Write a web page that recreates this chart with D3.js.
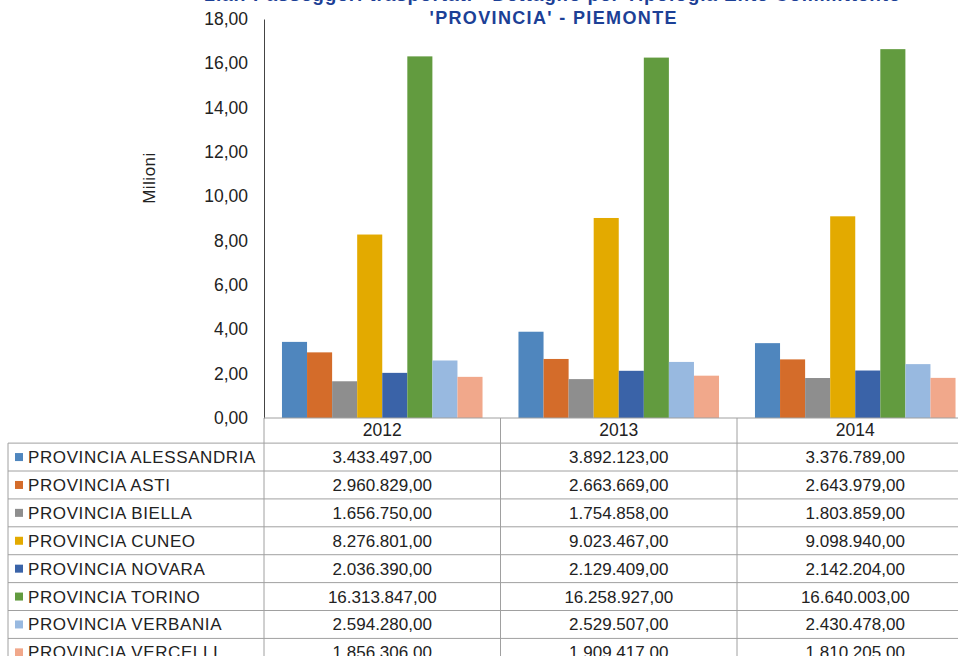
<!DOCTYPE html>
<html>
<head>
<meta charset="utf-8">
<script src="https://cdn.jsdelivr.net/npm/d3@7"></script>
<style>
   body { margin: 0; background: #fff; }
   svg { display: block; font-family: "Liberation Sans", Arial, sans-serif; }
</style>
</head>
<body>
<div id="mainChart"></div>
<script>
// Data
const years = ["2012", "2013", "2014"]
const provinces = ["PROVINCIA ALESSANDRIA", "PROVINCIA ASTI", "PROVINCIA BIELLA", "PROVINCIA CUNEO",
   "PROVINCIA NOVARA", "PROVINCIA TORINO", "PROVINCIA VERBANIA", "PROVINCIA VERCELLI"]
const alessandria = [3433497, 3892123, 3376789]
const asti = [2960829, 2663669, 2643979]
const biella = [1656750, 1754858, 1803859]
const cuneo = [8276801, 9023467, 9098940]
const novara = [2036390, 2129409, 2142204]
const torino = [16313847, 16258927, 16640003]
const verbania = [2594280, 2529507, 2430478]
const vercelli = [1856306, 1909417, 1810205]
const yTicks = [0, 2, 4, 6, 8, 10, 12, 14, 16, 18]
const colors = ["#4f86be", "#d46c2a", "#8e8e8e", "#e3aa00", "#3a63a8", "#629b3f", "#98b9e0", "#f1a88b"]

const seriesValues = [alessandria, asti, biella, cuneo, novara, torino, verbania, vercelli]
const series = provinces.map((name, i) => ({ name: name, color: colors[i], values: seriesValues[i] }))

const W = 958, H = 656
const plotLeft = 264, plotTop = 19, plotBottom = 418
const bandWidth = 236.5
const rowH = 27.9

const svg = d3.select("#mainChart").append("svg")
   .attr("width", W)
   .attr("height", H)

// Scales
let x = d3.scaleBand()
   .domain(years)
   .range([plotLeft, plotLeft + bandWidth * years.length])
   .paddingInner(0.152)
   .paddingOuter(0.076)

let x0 = d3.scaleBand()
   .domain(years)
   .range([plotLeft, plotLeft + bandWidth * years.length])

let xInner = d3.scaleBand()
   .domain(provinces)
   .range([0, x.bandwidth()])

let y = d3.scaleLinear()
   .domain([0, 18])
   .range([plotBottom, plotTop])

// Title (first line is cut off by the top edge)
svg.append("text")
   .attr("x", 552).attr("y", 1)
   .attr("text-anchor", "middle")
   .attr("textLength", 695)
   .style("font-size", "19px").style("font-weight", "bold")
   .attr("fill", "#1c4096")
   .text("2.a.: Passeggeri trasportati - Dettaglio per Tipologia Ente Committente")

svg.append("text")
   .attr("x", 553).attr("y", 23.5)
   .attr("text-anchor", "middle")
   .attr("textLength", 247)
   .style("font-size", "18px").style("font-weight", "bold")
   .attr("fill", "#1c4096")
   .text("'PROVINCIA' - PIEMONTE")

// Y axis
let yAxis = d3.axisLeft(y)
   .tickValues(yTicks)
   .tickFormat(d => d3.format(".2f")(d).replace(".", ","))
   .tickSize(0)
   .tickPadding(16)

let yAxisG = svg.append("g")
   .attr("transform", "translate(" + plotLeft + ",0)")
   .call(yAxis)

yAxisG.select(".domain").attr("stroke", "#444")
yAxisG.selectAll("text")
   .style("font-size", "17.5px")
   .style("font-family", "'Liberation Sans', Arial, sans-serif")
   .attr("fill", "#222")

svg.append("text")
   .attr("transform", "translate(155,178) rotate(-90)")
   .attr("text-anchor", "middle")
   .style("font-size", "17px")
   .style("letter-spacing", "0.5px")
   .attr("fill", "#222")
   .text("Milioni")

// Bars
series.forEach((s, k) => {
   svg.selectAll("rect.bar-" + k).data(s.values)
      .join("rect")
      .attr("class", "bar-" + k)
      .attr("x", (d, i) => x(years[i]) + xInner(s.name))
      .attr("y", d => y(d / 1e6))
      .attr("width", xInner.bandwidth())
      .attr("height", d => plotBottom - y(d / 1e6))
      .attr("fill", s.color)
})

// Data table
const tableTop = plotBottom
const tableLeft = 8
const tableRight = plotLeft + bandWidth * years.length
const gridColor = "#a0a0a0"

// horizontal lines
svg.append("line")
   .attr("x1", plotLeft).attr("x2", tableRight)
   .attr("y1", tableTop).attr("y2", tableTop)
   .attr("stroke", gridColor)

d3.range(provinces.length + 1).forEach(i => {
   let yy = tableTop + rowH * (i + 0.9)
   svg.append("line")
      .attr("x1", tableLeft).attr("x2", tableRight)
      .attr("y1", yy).attr("y2", yy)
      .attr("stroke", gridColor)
})

// vertical lines
svg.append("line")
   .attr("x1", tableLeft).attr("x2", tableLeft)
   .attr("y1", tableTop + rowH * 0.9).attr("y2", H)
   .attr("stroke", gridColor)

years.forEach(yr => {
   svg.append("line")
      .attr("x1", x0(yr)).attr("x2", x0(yr))
      .attr("y1", tableTop).attr("y2", H)
      .attr("stroke", gridColor)
})

// header
svg.selectAll("text.year").data(years)
   .join("text")
   .attr("class", "year")
   .attr("x", d => x0(d) + x0.bandwidth() / 2)
   .attr("y", tableTop + 18)
   .attr("text-anchor", "middle")
   .style("font-size", "17.5px")
   .attr("fill", "#222")
   .text(d => d)

const fmt = d3.formatLocale({ decimal: ",", thousands: ".", grouping: [3], currency: ["", ""] }).format(",.2f")

series.forEach((s, r) => {
   let rowY = tableTop + rowH * (r + 0.9)

   svg.append("rect")
      .attr("x", 15).attr("y", rowY + rowH / 2 - 4)
      .attr("width", 8).attr("height", 8)
      .attr("fill", s.color)

   svg.append("text")
      .attr("x", 28).attr("y", rowY + rowH / 2 + 6)
      .style("font-size", "17px")
      .style("letter-spacing", "0.6px")
      .attr("fill", "#222")
      .text(s.name)

   s.values.forEach((v, i) => {
      svg.append("text")
         .attr("x", x0(years[i]) + x0.bandwidth() / 2)
         .attr("y", rowY + rowH / 2 + 6)
         .attr("text-anchor", "middle")
         .style("font-size", "17px")
         .attr("fill", "#222")
         .text(fmt(v))
   })
})
</script>
</body>
</html>
